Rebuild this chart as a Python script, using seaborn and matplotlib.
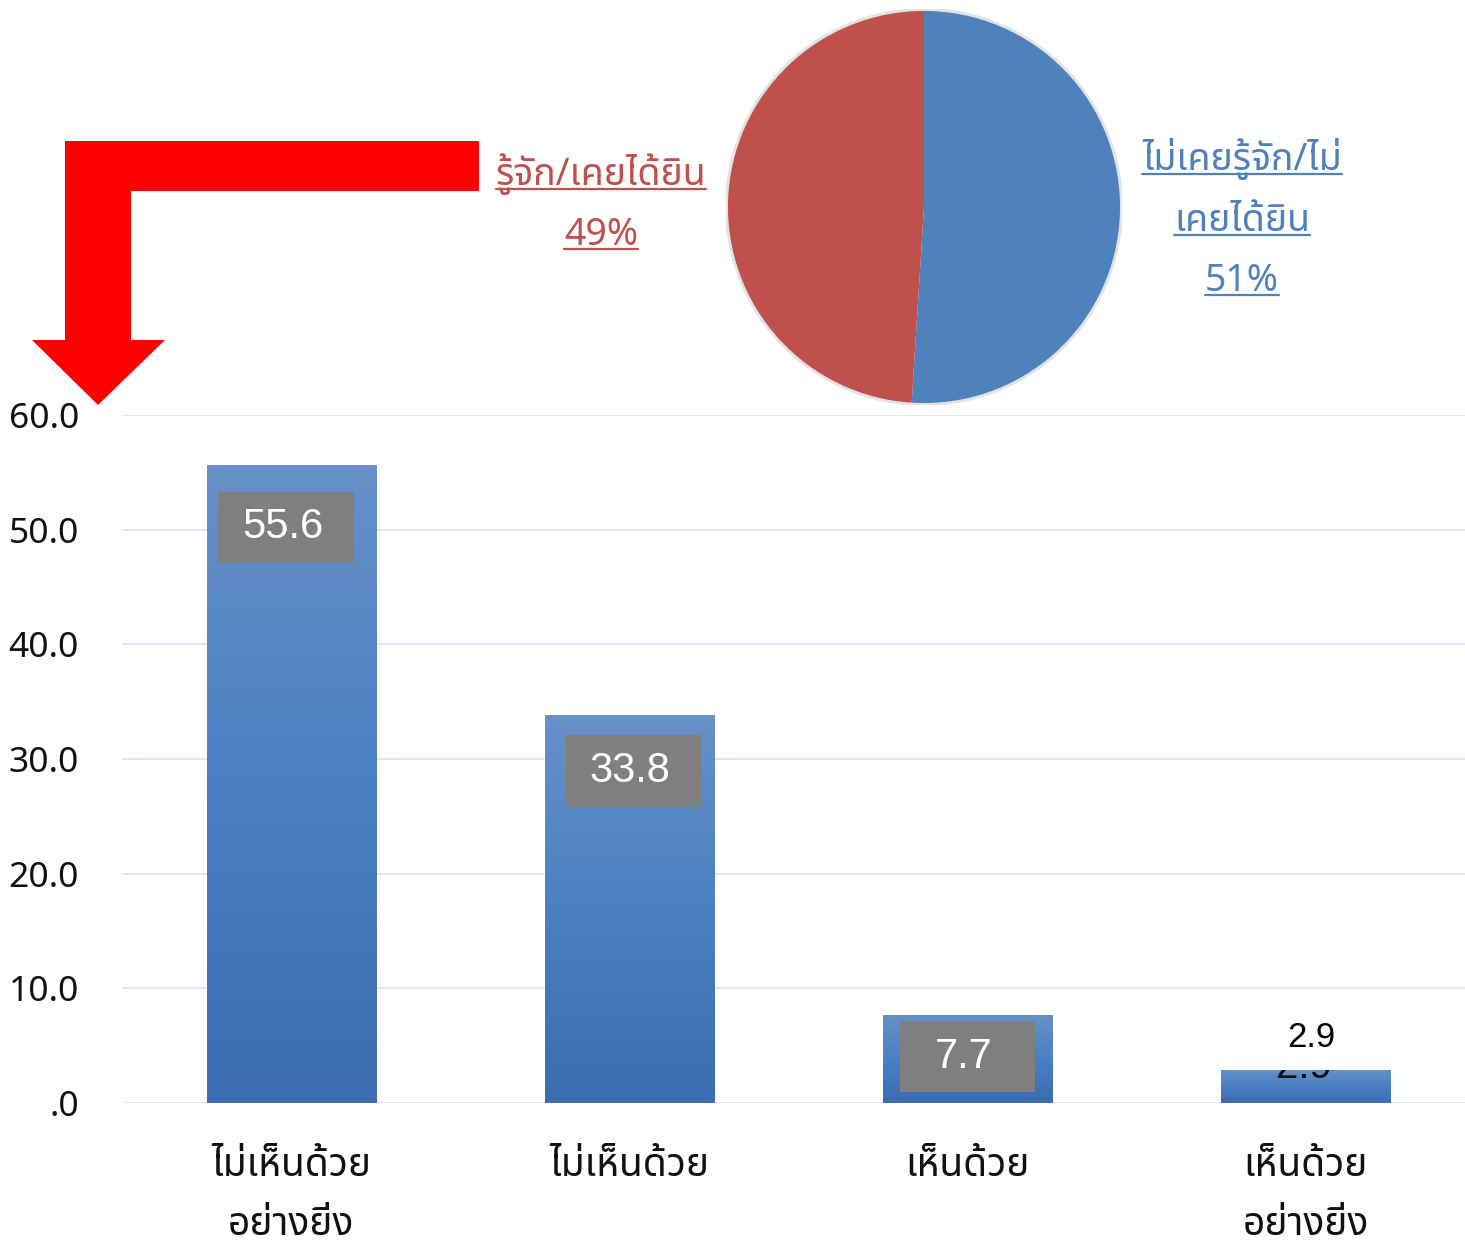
import matplotlib
matplotlib.use("Agg")
import matplotlib.pyplot as plt
import seaborn as sns
import numpy as np
import pandas as pd
from matplotlib import font_manager
from matplotlib.patches import Polygon, Rectangle, Circle
from matplotlib.lines import Line2D
from matplotlib.ticker import FuncFormatter
from matplotlib.transforms import Bbox, TransformedBbox

# ---- data ----
categories = ["ไม่เห็นด้วย\nอย่างยิ่ง", "ไม่เห็นด้วย", "เห็นด้วย", "เห็นด้วย\nอย่างยิ่ง"]
scores = [55.6, 33.8, 7.7, 2.9]

pie_labels = ["ไม่เคยรู้จัก/ไม่\nเคยได้ยิน", "รู้จัก/เคยได้ยิน"]
pie_values = [51, 49]
pie_colors = ["#4f81bd", "#c0504d"]

df = pd.DataFrame({"answer": categories, "score": scores})

# ---- find a font that has Thai glyphs ----
def find_thai_font():
    preferred = ["Noto Sans Thai", "Noto Sans Thai UI", "Loma", "Garuda", "Tlwg Typo",
                 "Sarabun", "Tahoma", "Leelawadee", "Norasi", "Kinnari"]
    names = {f.name for f in font_manager.fontManager.ttflist}
    for p in preferred:
        if p in names:
            return p
    try:
        from fontTools.ttLib import TTFont
    except Exception:
        return None
    for f in font_manager.fontManager.ttflist:
        try:
            cmap = TTFont(f.fname, fontNumber=0, lazy=True).getBestCmap()
        except Exception:
            continue
        if cmap and 0x0E01 in cmap:
            return f.name
    return None

sns.set_style("white")
thai = find_thai_font()
fam = [thai, "DejaVu Sans"] if thai else ["DejaVu Sans"]
plt.rcParams["font.family"] = fam

W, H = 1465, 1246
fig = plt.figure(figsize=(W / 100, H / 100), dpi=100)

def fx(px):
    return px / W

def fy(py):
    return 1 - py / H

# ---- bar chart ----
ax = fig.add_axes([fx(122), fy(1103), fx(1465 - 122), (1103 - 415) / H])
sns.barplot(data=df, x="answer", y="score", ax=ax, width=0.5, color="#4a7dbf",
            saturation=1, zorder=2)
ax.set_yticks(np.arange(0, 61, 10))
ax.yaxis.set_major_formatter(FuncFormatter(lambda v, p: ".0" if v == 0 else f"{v:.1f}"))
ax.grid(axis="y", color="#dae3f0", linewidth=1.2, zorder=0)
ax.set_axisbelow(True)
for s in ax.spines.values():
    s.set_visible(False)
ax.set_xlabel("")
ax.set_ylabel("")
ax.tick_params(axis="y", length=0, pad=31, labelsize=25.5, labelcolor="#111111")
ax.tick_params(axis="x", length=0, pad=32, labelsize=28, labelcolor="#111111")
for lab in ax.get_xticklabels():
    lab.set_linespacing(1.72)

# gradient fill inside each bar: light at the top, darker at the bottom
grad = np.linspace(0, 1, 256).reshape(-1, 1)
cmap = matplotlib.colors.LinearSegmentedColormap.from_list("bar", ["#6890c9", "#4a80c2", "#3b6db0"])
for patch in ax.patches:
    x0, y0 = patch.get_x(), patch.get_y()
    w, h = patch.get_width(), patch.get_height()
    im = ax.imshow(grad, cmap=cmap, extent=[x0, x0 + w, y0, y0 + h], aspect="auto",
                   zorder=3, origin="upper")
    im.set_clip_path(patch)
ax.set_xlim(-0.5, -0.5 + 1343 / 338.2)
ax.set_ylim(0, 60)

# value labels in grey boxes
box_w, box_h = 0.40, 6.2
for i, v in enumerate(scores[:3]):
    yc = max(v - (4.0 + 0.025 * v), v / 2 + 0.2)
    xc = i + [-0.015, 0.012, 0.0][i]
    ax.add_patch(Rectangle((xc - box_w / 2, yc - box_h / 2), box_w, box_h,
                           facecolor="#7f7f7f", edgecolor="none", zorder=4))
    ax.text(xc - 0.01, yc, f"{v:.1f}", ha="center", va="center", color="white",
            fontsize=30, family="Liberation Sans", zorder=5)

# last bar: label above, plus a copy mostly hidden above the bar top
v = scores[3]
hidden = ax.text(2.995, v + 0.25, f"{v:.1f}", ha="center", va="center", color="#111111",
                 fontsize=29, family="Liberation Sans", zorder=5)
hidden.set_clip_on(True)
hidden.set_clip_box(TransformedBbox(Bbox([[2.5, 0], [3.5, v - 0.05]]), ax.transData))
ax.text(3.018, v + 2.8, f"{v:.1f}", ha="center", va="center", color="black",
        fontsize=25, family="Liberation Sans", zorder=5)

# ---- pie chart ----
pax = fig.add_axes([fx(924 - 198), fy(207 + 198), fx(396), 396 / H])
pax.add_patch(Circle((0, 0), 1.006, facecolor="none", edgecolor="#e3e3e3", linewidth=2.5, zorder=0))
pax.pie(pie_values, colors=pie_colors, startangle=90, counterclock=False,
        wedgeprops=dict(edgecolor="none"))
pax.set_xlim(-1.01, 1.01)
pax.set_ylim(-1.01, 1.01)
pax.set_aspect("equal")
pax.axis("off")

# pie labels, underlined
renderer = fig.canvas.get_renderer()

def underlined(text, xc, baseline, color, size=27):
    t = fig.text(fx(xc), fy(baseline), text, ha="center", va="baseline",
                 color=color, fontsize=size)
    bb = t.get_window_extent(renderer=renderer)
    y = baseline + 4
    fig.add_artist(Line2D([fx(bb.x0), fx(bb.x1)], [fy(y), fy(y)], color=color,
                          linewidth=1.6, transform=fig.transFigure))

red_lines = pie_labels[1].split("\n") + [f"{pie_values[1]}%"]
blue_lines = pie_labels[0].split("\n") + [f"{pie_values[0]}%"]
for line, base in zip(red_lines, [185, 245]):
    underlined(line, 601, base, pie_colors[1])
for line, base in zip(blue_lines, [170, 231, 291]):
    underlined(line, 1242, base, pie_colors[0])

# ---- red elbow arrow ----
arrow_px = [(479, 141), (65, 141), (65, 340), (32, 340), (98, 405),
            (165, 340), (131, 340), (131, 191), (479, 191)]
fig.add_artist(Polygon([(fx(x), fy(y)) for x, y in arrow_px], closed=True,
                       facecolor="#ff0000", edgecolor="none", transform=fig.transFigure,
                       zorder=10))

fig.savefig("out.png", dpi=100)
